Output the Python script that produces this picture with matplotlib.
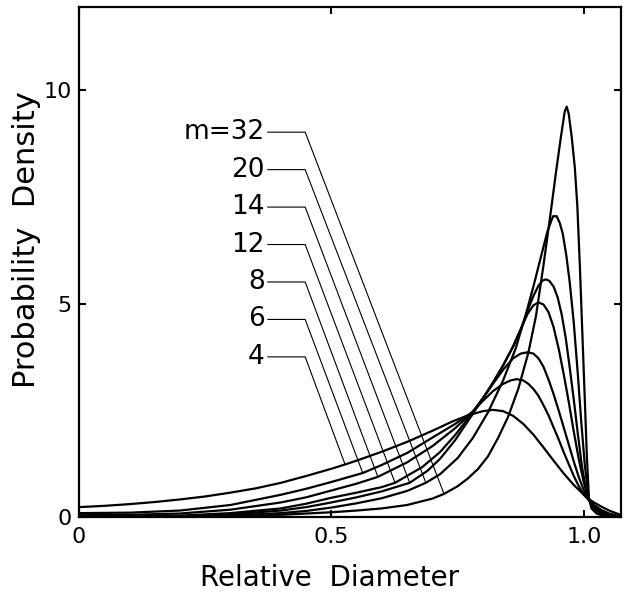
import matplotlib
matplotlib.use("Agg")
import matplotlib.pyplot as plt
import numpy as np

# curves, one pair of lists per m
x4 = [0, 0.05, 0.1, 0.15, 0.2, 0.25, 0.3, 0.35, 0.4, 0.45, 0.5, 0.527, 0.55, 0.6, 0.65,
      0.7, 0.74, 0.77, 0.8, 0.82, 0.84, 0.86, 0.88, 0.9, 0.92, 0.94, 0.96, 0.98, 1.0,
      1.01, 1.02, 1.035, 1.05, 1.07]
y4 = [0.23, 0.26, 0.3, 0.35, 0.41, 0.48, 0.57, 0.67, 0.8, 0.96, 1.13, 1.23, 1.32, 1.53, 1.76,
      2.02, 2.24, 2.38, 2.48, 2.51, 2.48, 2.37, 2.18, 1.93, 1.63, 1.32, 1.02, 0.75, 0.52,
      0.42, 0.34, 0.24, 0.15, 0.06]

x6 = [0, 0.1, 0.2, 0.3, 0.4, 0.45, 0.5, 0.562, 0.6, 0.65, 0.7, 0.745, 0.778, 0.8, 0.82,
      0.84, 0.855, 0.867, 0.88, 0.89, 0.9, 0.91, 0.92, 0.93, 0.94, 0.95, 0.96, 0.97,
      0.98, 0.99, 1.0, 1.01, 1.02, 1.035, 1.05, 1.07]
y6 = [0.09, 0.1, 0.15, 0.28, 0.52, 0.66, 0.82, 1.03, 1.22, 1.5, 1.86, 2.18, 2.45, 2.72, 2.95,
      3.12, 3.2, 3.23, 3.2, 3.12, 3.0, 2.84, 2.62, 2.38, 2.1, 1.82, 1.52, 1.24,
      0.96, 0.72, 0.52, 0.39, 0.28, 0.16, 0.08, 0.02]

x8 = [0, 0.1, 0.2, 0.3, 0.4, 0.45, 0.5, 0.55, 0.592, 0.65, 0.7, 0.745, 0.778, 0.8, 0.82,
      0.84, 0.86, 0.875, 0.889, 0.9, 0.91, 0.92, 0.93, 0.94, 0.95, 0.96, 0.97, 0.98,
      0.99, 1.0, 1.01, 1.02, 1.035, 1.05, 1.07]
y8 = [0.04, 0.05, 0.08, 0.17, 0.34, 0.46, 0.62, 0.78, 0.94, 1.28, 1.66, 2.08, 2.44, 2.78, 3.12,
      3.45, 3.72, 3.83, 3.86, 3.83, 3.72, 3.52, 3.22, 2.88, 2.5, 2.1, 1.7, 1.3,
      0.93, 0.62, 0.4, 0.26, 0.13, 0.06, 0.01]

x12 = [0, 0.1, 0.2, 0.3, 0.4, 0.45, 0.5, 0.55, 0.6, 0.626, 0.68, 0.715, 0.745, 0.778, 0.8,
       0.82, 0.84, 0.86, 0.875, 0.888, 0.9, 0.91, 0.92, 0.93, 0.94, 0.95, 0.96, 0.97,
       0.98, 0.99, 1.0, 1.01, 1.02, 1.035, 1.05, 1.07]
y12 = [0.01, 0.01, 0.03, 0.09, 0.2, 0.31, 0.45, 0.57, 0.7, 0.8, 1.17, 1.52, 1.92, 2.42, 2.78,
       3.15, 3.55, 4.0, 4.4, 4.75, 4.96, 5.03, 4.98, 4.8, 4.45, 3.95, 3.35, 2.7,
       2.0, 1.35, 0.8, 0.4, 0.22, 0.1, 0.04, 0.01]

x14 = [0, 0.1, 0.2, 0.3, 0.4, 0.45, 0.5, 0.55, 0.6, 0.655, 0.69, 0.715, 0.745, 0.778, 0.8,
       0.82, 0.84, 0.86, 0.875, 0.89, 0.9, 0.91, 0.918, 0.925, 0.932, 0.94, 0.948, 0.956,
       0.964, 0.972, 0.98, 0.988, 0.996, 1.004, 1.01, 1.02, 1.035, 1.05, 1.07]
y14 = [0.0, 0.0, 0.02, 0.06, 0.15, 0.23, 0.34, 0.46, 0.6, 0.8, 1.08, 1.36, 1.8, 2.38, 2.78,
       3.15, 3.55, 4.0, 4.4, 4.88, 5.18, 5.42, 5.54, 5.57, 5.53, 5.4, 5.15, 4.75,
       4.2, 3.5, 2.75, 1.95, 1.2, 0.65, 0.4, 0.2, 0.08, 0.03, 0.0]

x20 = [0, 0.1, 0.2, 0.3, 0.4, 0.45, 0.5, 0.55, 0.6, 0.65, 0.687, 0.715, 0.75, 0.78, 0.81,
       0.84, 0.865, 0.885, 0.9, 0.915, 0.928, 0.939, 0.946, 0.952, 0.958, 0.965, 0.972,
       0.98, 0.988, 0.995, 1.002, 1.01, 1.02, 1.035, 1.05, 1.07]
y20 = [0.0, 0.0, 0.01, 0.03, 0.09, 0.14, 0.22, 0.32, 0.44, 0.61, 0.8, 1.0, 1.38, 1.85, 2.45,
       3.2, 3.95, 4.75, 5.4, 6.1, 6.7, 7.05, 7.05, 6.9, 6.65, 6.15, 5.5,
       4.55, 3.35, 2.2, 1.2, 0.4, 0.15, 0.05, 0.01, 0.0]

x32 = [0, 0.2, 0.3, 0.4, 0.45, 0.5, 0.55, 0.6, 0.65, 0.7, 0.723, 0.75, 0.77, 0.79, 0.81,
       0.83, 0.85, 0.87, 0.89, 0.905, 0.92, 0.935, 0.945, 0.955, 0.962, 0.966, 0.97,
       0.976, 0.982, 0.987, 0.992, 0.997, 1.002, 1.006, 1.01, 1.015, 1.025, 1.04, 1.06]
y32 = [0.0, 0.0, 0.02, 0.05, 0.08, 0.11, 0.15, 0.2, 0.28, 0.43, 0.54, 0.72, 0.9, 1.12, 1.42,
       1.85, 2.35, 3.0, 3.85, 4.7, 5.9, 7.2, 8.1, 8.95, 9.5, 9.62, 9.45,
       8.9, 8.2, 7.3, 5.9, 4.3, 2.7, 1.4, 0.45, 0.2, 0.08, 0.02, 0.0]

m_labels = ["m=32", "20", "14", "12", "8", "6", "4"]
curves = [(x32, y32), (x20, y20), (x14, y14), (x12, y12), (x8, y8), (x6, y6), (x4, y4)]
# where each leader line touches its curve
leader_end_x = [0.723, 0.687, 0.655, 0.626, 0.592, 0.562, 0.527]

fig = plt.figure(figsize=(6.27, 5.99), dpi=100)
ax = fig.add_axes([0.126, 0.137, 0.864, 0.851])

for xs, ys in curves:
    ax.plot(xs, ys, color="black", lw=1.6, solid_joinstyle="round")

# labels with bent leader lines
label_y0, label_dy = 9.02, 0.878
for i, (lab, (xs, ys)) in enumerate(zip(m_labels, curves)):
    ly = label_y0 - i * label_dy
    ex = leader_end_x[i]
    ey = np.interp(ex, xs, ys)
    ax.plot([0.374, 0.448, ex], [ly, ly, ey], color="black", lw=0.8)
    ax.text(0.368, ly, lab, ha="right", va="center", fontsize=19)

ax.set_xlim(0, 1.073)
ax.set_ylim(0, 11.95)
ax.set_xticks([0, 0.5, 1.0])
ax.set_xticklabels(["0", "0.5", "1.0"])
ax.set_yticks([0, 5, 10])
ax.set_yticklabels(["0", "5", "10"])
ax.tick_params(direction="in", length=5, width=1.5, labelsize=16,
               top=True, right=True)
ax.tick_params(axis="x", pad=7)
ax.tick_params(axis="y", pad=5)
for sp in ax.spines.values():
    sp.set_linewidth(1.6)

fig.text(0.525, 0.035, "Relative  Diameter", ha="center", va="center", fontsize=20)
fig.text(0.042, 0.60, "Probability  Density", ha="center", va="center",
         rotation=90, fontsize=22)

fig.savefig("out.png", dpi=100)
